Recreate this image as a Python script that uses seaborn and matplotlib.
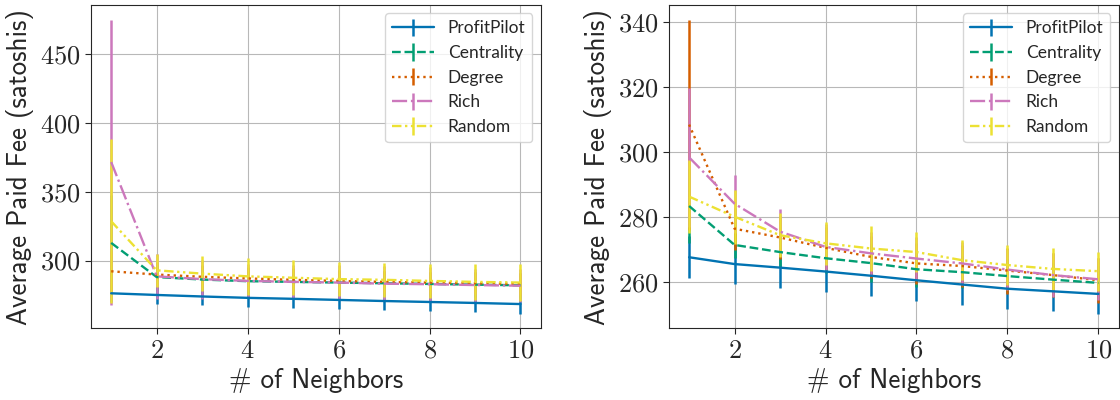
import matplotlib
matplotlib.use("Agg")
import matplotlib.pyplot as plt
import seaborn as sns

# number of neighbors on the x axis
neighbors = [1, 2, 3, 4, 5, 6, 7, 8, 9, 10]
strategies = ["ProfitPilot", "Centrality", "Degree", "Rich", "Random"]

# left panel: average paid fee and error
pp_left = [276.2, 275.0, 273.9, 272.9, 272.2, 271.4, 270.6, 269.9, 269.2, 268.4]
pp_left_err = [6.0, 6.3, 6.4, 6.7, 6.6, 6.4, 6.4, 6.8, 6.6, 7.0]
cen_left = [312.8, 288.0, 286.2, 285.0, 284.5, 284.0, 283.5, 283.0, 282.5, 282.0]
cen_left_err = [35.0, 10.0, 9.5, 9.5, 9.0, 9.0, 9.0, 9.0, 9.0, 9.0]
deg_left = [292.2, 289.8, 288.2, 287.0, 286.0, 285.2, 284.5, 284.0, 283.5, 283.0]
deg_left_err = [15.0, 9.0, 8.5, 8.5, 8.5, 8.0, 8.0, 8.0, 8.0, 8.0]
rich_left = [371.5, 288.5, 286.5, 285.2, 284.5, 284.0, 283.2, 282.8, 282.2, 281.7]
rich_left_err = [103.5, 16.2, 14.2, 12.0, 12.5, 12.5, 12.5, 12.5, 12.0, 12.0]
rand_left = [328.5, 292.9, 290.5, 288.5, 287.5, 286.5, 286.0, 285.2, 284.5, 284.0]
rand_left_err = [59.5, 12.2, 12.9, 13.4, 12.7, 12.5, 12.3, 12.6, 12.8, 13.3]

# right panel
pp_right = [267.6, 265.5, 264.4, 263.2, 261.9, 260.5, 259.2, 257.9, 257.1, 256.3]
pp_right_err = [6.5, 6.3, 6.2, 6.4, 6.1, 6.4, 6.4, 6.1, 6.1, 6.1]
cen_right = [283.4, 271.4, 269.2, 267.3, 265.8, 263.9, 263.0, 261.8, 260.7, 259.7]
cen_right_err = [11.5, 3.9, 4.7, 4.7, 5.8, 5.4, 5.0, 5.2, 5.2, 5.2]
deg_right = [308.5, 276.4, 273.7, 270.5, 267.7, 265.7, 264.9, 263.5, 262.1, 260.5]
deg_right_err = [32.4, 6.5, 6.5, 6.5, 6.5, 6.2, 6.5, 7.1, 6.8, 7.0]
rich_right = [298.4, 284.1, 275.5, 270.8, 268.8, 267.2, 265.7, 263.8, 262.1, 260.8]
rich_right_err = [21.4, 8.9, 6.9, 7.2, 6.7, 6.7, 6.7, 6.4, 6.7, 6.5]
rand_right = [286.3, 280.1, 274.4, 271.9, 270.3, 269.2, 266.7, 265.2, 264.0, 263.3]
rand_right_err = [11.3, 8.3, 6.8, 6.7, 6.9, 6.3, 6.2, 6.2, 6.5, 6.0]

left_data = [(pp_left, pp_left_err), (cen_left, cen_left_err), (deg_left, deg_left_err),
             (rich_left, rich_left_err), (rand_left, rand_left_err)]
right_data = [(pp_right, pp_right_err), (cen_right, cen_right_err), (deg_right, deg_right_err),
              (rich_right, rich_right_err), (rand_right, rand_right_err)]

sns.set_style("whitegrid", {
    "axes.edgecolor": "0.15",
    "grid.color": "0.72",
    "xtick.bottom": True,
    "ytick.left": True,
})
plt.rcParams["font.family"] = "cmr10"
plt.rcParams["axes.formatter.use_mathtext"] = True
plt.rcParams["xtick.major.size"] = 4
plt.rcParams["ytick.major.size"] = 4

pal = sns.color_palette("colorblind")
colors = [pal[0], pal[2], pal[3], pal[4], pal[8]]
styles = ["-", "--", ":", "-.", (0, (4, 1.5, 1, 1.5, 1, 1.5))]

fig = plt.figure(figsize=(11.2, 4), dpi=100)
ax1 = fig.add_axes([0.081, 0.179, 0.402, 0.809])
ax2 = fig.add_axes([0.597, 0.179, 0.402, 0.809])

for ax, data in [(ax1, left_data), (ax2, right_data)]:
    for name, (vals, errs), c, ls in zip(strategies, data, colors, styles):
        ax.errorbar(neighbors, vals, yerr=errs, color=c, linestyle=ls, linewidth=1.7,
                    elinewidth=1.8, capsize=0, label=name)
    ax.set_xlabel("# of Neighbors", family="cmss10", fontsize=19.5)
    ax.set_ylabel("Average Paid Fee (satoshis)", family="cmss10", fontsize=19.5)
    ax.tick_params(labelsize=19)
    ax.set_xticks([2, 4, 6, 8, 10])
    for sp in ax.spines.values():
        sp.set_color("0.15")
    ax.legend(loc="upper right", prop={"family": "Lato", "size": 12.5}, handlelength=2.4,
              framealpha=0.8)

fig.savefig("out.png", dpi=100)
